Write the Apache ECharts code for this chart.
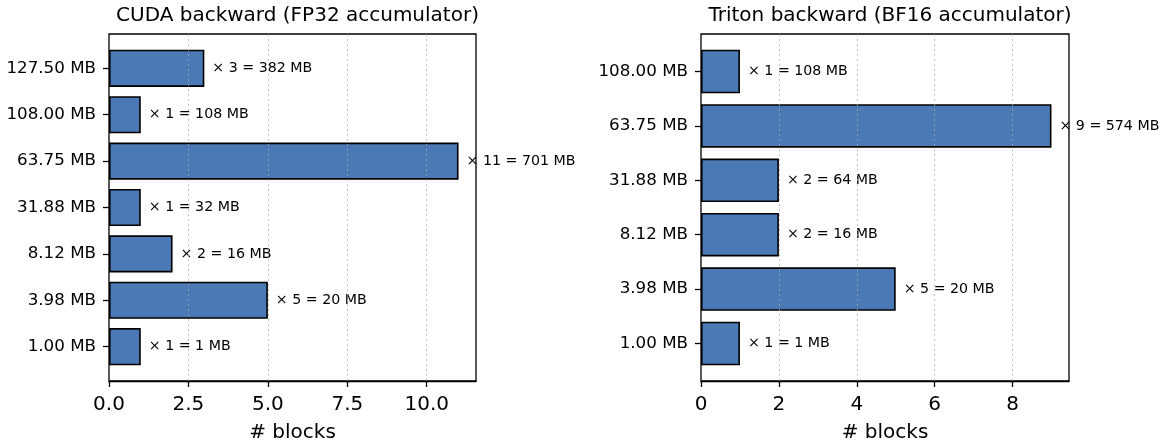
<!DOCTYPE html>
<html>
<head>
<meta charset="utf-8">
<script src="https://cdn.jsdelivr.net/npm/echarts@6/dist/echarts.min.js"></script>
<style>
  html, body { margin: 0; padding: 0; background: #fff; }
  #chart { width: 1165px; height: 442px; }
</style>
</head>
<body>
<div id="chart"></div>
<script>
// Block sizes (bottom to top) and how many blocks of each size were allocated.
const cudaSizes = ['1.00 MB', '3.98 MB', '8.12 MB', '31.88 MB', '63.75 MB', '108.00 MB', '127.50 MB'];
const cudaCounts = [1, 5, 2, 1, 11, 1, 3];
const cudaTotals = [1, 20, 16, 32, 701, 108, 382];

const tritonSizes = ['1.00 MB', '3.98 MB', '8.12 MB', '31.88 MB', '63.75 MB', '108.00 MB'];
const tritonCounts = [1, 5, 2, 2, 9, 1];
const tritonTotals = [1, 20, 16, 64, 574, 108];

const cudaTicks = [0, 2.5, 5, 7.5, 10];
const tritonTicks = [0, 2, 4, 6, 8];

const FONT = 'DejaVu Sans';
const BAR_COLOR = '#4a79b6';

// Panel geometry
const TOP = 34, H = 347;
const panels = [
  { left: 109, width: 367, sizes: cudaSizes, counts: cudaCounts, totals: cudaTotals,
    ticks: cudaTicks, decimals: 1, title: 'CUDA backward (FP32 accumulator)' },
  { left: 701, width: 368, sizes: tritonSizes, counts: tritonCounts, totals: tritonTotals,
    ticks: tritonTicks, decimals: 0, title: 'Triton backward (BF16 accumulator)' }
];

const grid = [], xAxis = [], yAxis = [], series = [], title = [];

panels.forEach((p, i) => {
  const n = p.sizes.length;
  const maxCount = Math.max(...p.counts);
  const xMax = maxCount * 1.05;
  const interval = p.ticks[1] - p.ticks[0];
  // y range like a barh plot: bars span [-0.4, n-0.6] plus 5% margins
  const span = (n - 0.2) * 1.1;
  const pxPerUnit = H / span;
  const pad = (0.05 * (n - 0.2) - 0.1) * pxPerUnit;

  const frameIdx = grid.length;
  grid.push({ left: p.left, top: TOP, width: p.width, height: H,
    containLabel: false, outerBoundsMode: 'none',
    show: true, borderColor: '#000', borderWidth: 1.3, backgroundColor: 'transparent' });
  const barIdx = grid.length;
  grid.push({ left: p.left, top: TOP + pad, width: p.width, height: n * pxPerUnit,
    containLabel: false, outerBoundsMode: 'none' });

  // frame axes: bottom ticks, dotted grid, axis name
  xAxis.push({
    gridIndex: frameIdx, type: 'value', min: 0, max: xMax, interval: interval, z: 5,
    axisLine: { show: true, lineStyle: { color: '#000', width: 1.3 } },
    axisTick: { show: true, length: 6, lineStyle: { color: '#000', width: 1.3 } },
    axisLabel: { show: true, showMaxLabel: false, margin: 14, color: '#000',
      fontFamily: FONT, fontSize: 20,
      formatter: v => v.toFixed(p.decimals) },
    splitLine: { show: true, showMinLine: false, showMaxLine: false,
      lineStyle: { type: [2, 3], color: 'rgba(170,170,170,0.7)', width: 1 } },
    name: '# blocks', nameLocation: 'middle', nameGap: 42,
    nameTextStyle: { fontFamily: FONT, fontSize: 20, color: '#000' }
  });
  yAxis.push({ gridIndex: frameIdx, type: 'value', min: 0, max: 1, show: false });

  // bar axes
  xAxis.push({ gridIndex: barIdx, type: 'value', min: 0, max: xMax, show: false });
  yAxis.push({
    gridIndex: barIdx, type: 'category', data: p.sizes,
    axisLine: { show: false },
    axisTick: { show: true, alignWithLabel: true, length: 6, lineStyle: { color: '#000', width: 1.3 } },
    axisLabel: { margin: 13, color: '#000', fontFamily: FONT, fontSize: 16.7 },
    splitLine: { show: false }
  });

  series.push({
    type: 'bar', xAxisIndex: xAxis.length - 1, yAxisIndex: yAxis.length - 1,
    data: p.counts, barCategoryGap: '20%', z: 2,
    itemStyle: { color: BAR_COLOR, borderColor: '#000', borderWidth: 1.6 },
    label: {
      show: true, position: 'right', distance: 8, color: '#000',
      fontFamily: FONT, fontSize: 14.2,
      formatter: d => '\u00d7 ' + d.value + ' = ' + p.totals[d.dataIndex] + ' MB'
    }
  });

  title.push({
    text: p.title, left: p.left + p.width / 2, top: 1, textAlign: 'center',
    textStyle: { fontFamily: FONT, fontSize: 20, fontWeight: 'normal', color: '#000' }
  });
});

const chart = echarts.init(document.getElementById('chart'), null, { renderer: 'canvas' });
chart.setOption({
  animation: false,
  backgroundColor: '#fff',
  title, grid, xAxis, yAxis, series
});
</script>
</body>
</html>
